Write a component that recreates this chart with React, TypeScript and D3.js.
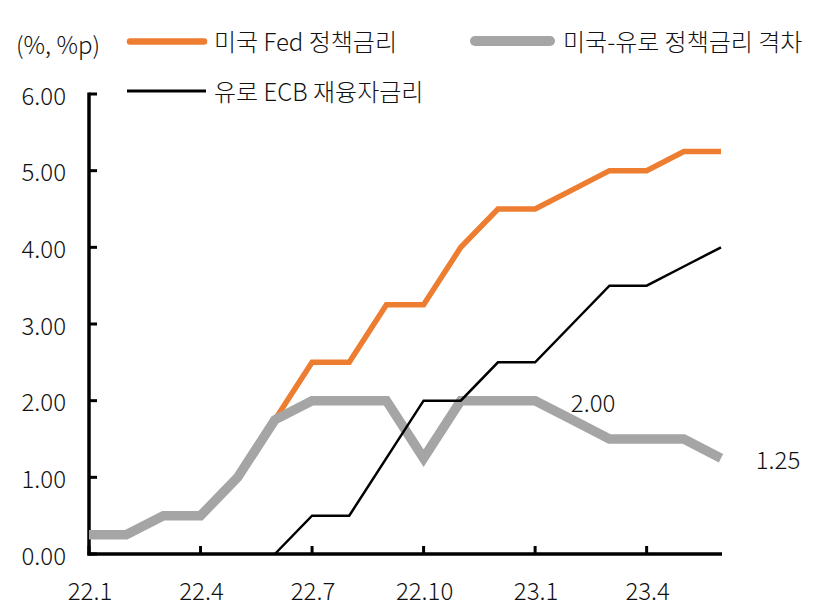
import React from "react";
import * as d3 from "d3";

const months = ["22.1","22.2","22.3","22.4","22.5","22.6","22.7","22.8","22.9","22.10","22.11","22.12","23.1","23.2","23.3","23.4","23.5","23.6"];
const fed = [0.25,0.25,0.5,0.5,1.0,1.75,2.5,2.5,3.25,3.25,4.0,4.5,4.5,4.75,5.0,5.0,5.25,5.25];
const ecb: (number | null)[] = [null,null,null,null,null,0,0.5,0.5,1.25,2.0,2.0,2.5,2.5,3.0,3.5,3.5,3.75,4.0];
const gap = [0.25,0.25,0.5,0.5,1.0,1.75,2.0,2.0,2.0,1.25,2.0,2.0,2.0,1.75,1.5,1.5,1.5,1.25];
const yTicks = [0,1,2,3,4,5,6];
const xTickLabels = ["22.1","22.4","22.7","22.10","23.1","23.4"];
const seriesNames = ["미국 Fed 정책금리", "미국-유로 정책금리 격차", "유로 ECB 재융자금리"];
const annotations = [{ idx: 12, value: "2.00" }, { idx: 17, value: "1.25" }];

const FONT = "'Noto Sans CJK KR', 'Noto Sans', sans-serif";
const FS = 24;

export default function App() {
  const W = 820, H = 610;
  const x = d3.scaleLinear().domain([0, months.length - 1]).range([89, 721]);
  const y = d3.scaleLinear().domain([0, 6]).range([554, 94]);
  const line = d3.line<number | null>()
    .defined((d) => d !== null)
    .x((_, i) => x(i))
    .y((d) => y(d as number));

  const annPos = [
    { x: x(annotations[0].idx) + 58, y: y(gap[annotations[0].idx]) + 1 },
    { x: x(annotations[1].idx) + 57, y: y(gap[annotations[1].idx]) + 0 },
  ];

  return (
    <svg width={W} height={H} style={{ position: "absolute", left: 0, top: 0, background: "#fff" }} fontFamily={FONT}>
      {/* axes */}
      <line x1={89} x2={89} y1={y(6) - 1.5} y2={y(0) + 1.5} stroke="#000" strokeWidth={3.5} />
      <line x1={87.5} x2={722} y1={y(0)} y2={y(0)} stroke="#000" strokeWidth={3.5} />
      {yTicks.map((t) => (
        <g key={t}>
          <line x1={89} x2={97} y1={y(t)} y2={y(t)} stroke="#000" strokeWidth={3} />
          <text x={66} y={y(t)} textAnchor="end" dominantBaseline="central" fontSize={FS} fontWeight={300} fill="#111">
            {t.toFixed(2)}
          </text>
        </g>
      ))}
      {xTickLabels.map((lab) => {
        const i = months.indexOf(lab);
        return (
          <g key={lab}>
            <line x1={x(i)} x2={x(i)} y1={y(0)} y2={y(0) - 8} stroke="#000" strokeWidth={3} />
            <text x={x(i) + 1} y={589} textAnchor="middle" dominantBaseline="central" fontSize={FS} fontWeight={300} fill="#111">
              {lab}
            </text>
          </g>
        );
      })}
      {/* series */}
      <path d={line(fed) || ""} fill="none" stroke="#ED7D31" strokeWidth={5.5} strokeLinejoin="miter" />
      <path d={line(gap) || ""} fill="none" stroke="#A5A5A5" strokeWidth={9.5} strokeLinejoin="miter" />
      <path d={line(ecb) || ""} fill="none" stroke="#000" strokeWidth={2.5} strokeLinejoin="miter" />
      {/* annotations */}
      {annotations.map((a, k) => (
        <text key={a.value} x={annPos[k].x} y={annPos[k].y} textAnchor="middle" dominantBaseline="central" fontSize={FS} fontWeight={300} fill="#111">
          {a.value}
        </text>
      ))}
      {/* legend */}
      <text x={16} y={43} dominantBaseline="central" fontSize={FS} fontWeight={300} fill="#111">(%, %p)</text>
      <line x1={130} x2={204} y1={41.5} y2={41.5} stroke="#ED7D31" strokeWidth={6.5} strokeLinecap="round" />
      <text x={214} y={40} dominantBaseline="central" fontSize={FS} fontWeight={300} fill="#111">{seriesNames[0]}</text>
      <line x1={475} x2={550} y1={41} y2={41} stroke="#A5A5A5" strokeWidth={10} strokeLinecap="round" />
      <text x={563} y={40} dominantBaseline="central" fontSize={FS} fontWeight={300} fill="#111">{seriesNames[1]}</text>
      <line x1={127} x2={206} y1={91} y2={91} stroke="#000" strokeWidth={3} />
      <text x={214} y={90} dominantBaseline="central" fontSize={FS} fontWeight={300} fill="#111">{seriesNames[2]}</text>
    </svg>
  );
}
